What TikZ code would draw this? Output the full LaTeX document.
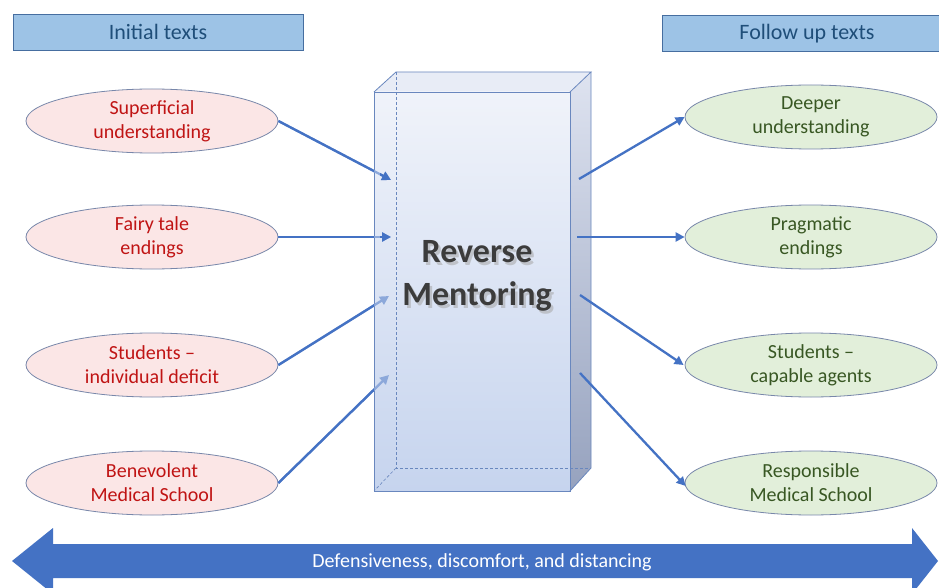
\documentclass[tikz,border=0pt]{standalone}
\usepackage{fontspec}
\setmainfont{Carlito}
\usetikzlibrary{shapes.geometric,arrows.meta}
\definecolor{hdrfill}{RGB}{157,195,230}
\definecolor{hdrdraw}{RGB}{70,110,160}
\definecolor{hdrtext}{RGB}{31,78,121}
\definecolor{pinkfill}{RGB}{251,230,230}
\definecolor{greenfill}{RGB}{226,239,218}
\definecolor{elldraw}{RGB}{120,135,170}
\definecolor{redtext}{RGB}{192,20,20}
\definecolor{greentext}{RGB}{56,87,35}
\definecolor{arrowblue}{RGB}{68,114,196}
\definecolor{fadeblue}{RGB}{140,168,218}
\definecolor{boxedge}{RGB}{105,135,190}
\definecolor{boxtop}{RGB}{240,243,250}
\definecolor{boxbot}{RGB}{198,212,238}
\definecolor{topface}{RGB}{232,236,246}
\definecolor{sidetop}{RGB}{222,227,240}
\definecolor{sidebot}{RGB}{150,162,190}
\definecolor{rmtext}{RGB}{60,60,60}
\tikzset{
  header/.style={draw=hdrdraw, fill=hdrfill, line width=0.8pt, minimum height=36pt,
    inner sep=0pt, text=hdrtext, font=\fontsize{22}{26}\selectfont},
  oldell/.style={ellipse, draw=elldraw, fill=pinkfill, line width=0.8pt, minimum width=252pt,
    minimum height=64pt, inner sep=0pt, align=center, text=redtext, font=\fontsize{20}{24}\selectfont},
  newell/.style={oldell, fill=greenfill, text=greentext},
  flow/.style={draw=arrowblue, line width=2.3pt, -{Triangle[length=9pt,width=9pt]}},
  fadeflow/.style={draw=fadeblue, line width=2.3pt, -{Triangle[length=9pt,width=9pt]}},
  boxline/.style={draw=boxedge, line width=0.8pt},
  backline/.style={draw=boxedge, line width=0.6pt, dashed, dash pattern=on 3pt off 2pt}
}
\begin{document}
\begin{tikzpicture}[x=1pt,y=-1pt]
\useasboundingbox (0,0) rectangle (939,588);
\fill[white] (0,0) rectangle (939,588);

% headers
\node[header, minimum width=290pt] (hinit) at (158,32) {Initial texts};
\node[header, minimum width=290pt] (hfollow) at (807,33.5) {Follow up texts};

% ellipses left
\node[oldell] (s1) at (152,121) {Superficial\\understanding};
\node[oldell] (s2) at (152,237) {Fairy tale\\endings};
\node[oldell] (s3) at (152,365) {Students --\\individual deficit};
\node[oldell] (s4) at (152,483) {Benevolent\\Medical School};
% ellipses right
\node[newell] (t1) at (811,117) {Deeper\\understanding};
\node[newell] (t2) at (811,237) {Pragmatic\\endings};
\node[newell] (t3) at (811,365) {Students --\\capable agents};
\node[newell] (t4) at (811,483) {Responsible\\Medical School};

% box
\coordinate (fa) at (374,92);
\coordinate (fb) at (570,92);
\coordinate (fc) at (570,491);
\coordinate (fd) at (374,491);
\coordinate (ba) at (396,72);
\coordinate (bb) at (591,72);
\coordinate (bc) at (591,468);
\coordinate (bd) at (396,468);
\shade[top color=sidetop, bottom color=sidebot] (fb) -- (bb) -- (bc) -- (fc) -- cycle;
\fill[topface] (fa) -- (ba) -- (bb) -- (fb) -- cycle;
\shade[top color=boxtop, bottom color=boxbot] (fa) rectangle (fc);
\draw[backline] (ba) -- (bd) -- (bc);
\draw[backline] (bd) -- (fd);
\draw[boxline] (fa) -- (ba) -- (bb) -- (fb);
\draw[boxline] (bb) -- (bc) -- (fc);
\draw[boxline] (fa) rectangle (fc);

% arrow ends inside box
\coordinate (in1) at (391,180);
\coordinate (in2) at (391,237);
\coordinate (in3) at (389,296);
\coordinate (in4) at (389,375);
\coordinate (out1) at (579,179);
\coordinate (out2) at (577,237);
\coordinate (out3) at (580,295);
\coordinate (out4) at (580,373);

% incoming arrows: faded inside box, solid outside
\draw[fadeflow] (s1.east) -- (in1);
\draw[fadeflow] (s2.east) -- (in2);
\draw[fadeflow] (s3.east) -- (in3);
\draw[fadeflow] (s4.east) -- (in4);
\begin{scope}
\clip (0,0) rectangle (374,588);
\draw[flow] (s1.east) -- (in1);
\draw[flow] (s2.east) -- (in2);
\draw[flow] (s3.east) -- (in3);
\draw[flow] (s4.east) -- (in4);
\end{scope}
\begin{scope}
\clip (380,0) rectangle (395,588);
\draw[flow] (s1.east) -- (in1);
\draw[flow] (s2.east) -- (in2);
\end{scope}

% outgoing arrows
\draw[flow] (out1) -- (t1.west);
\draw[flow] (out2) -- (t2.west);
\draw[flow] (out3) -- ([xshift=-1pt]t3.west);
\draw[flow] (out4) -- ([xshift=1pt,yshift=-3pt]t4.west);

% title (with soft shadow)
\node[align=center, text=black!35, opacity=0.55, font=\fontsize{34}{43}\bfseries\selectfont] (rmshadow) at (479.5,278.5) {Reverse\\Mentoring};
\node[align=center, text=rmtext, font=\fontsize{34}{43}\bfseries\selectfont] (rm) at (477,276) {Reverse\\Mentoring};

% bottom double arrow
\fill[arrowblue] (12,561) -- (53,528) -- (53,544) -- (912,544) -- (912,528) -- (938,561)
  -- (912,594) -- (912,578) -- (53,578) -- (53,594) -- cycle;
\node[text=white, font=\fontsize{20}{24}\selectfont] (bottomlbl) at (482,562) {Defensiveness, discomfort, and distancing};
\end{tikzpicture}
\end{document}
